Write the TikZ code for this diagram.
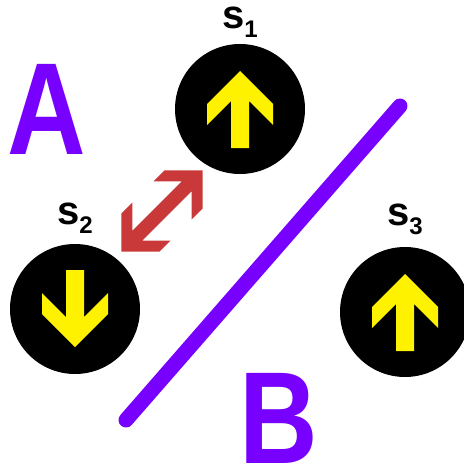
\documentclass[tikz,border=0pt]{standalone}
\usepackage{fontspec}
\setmainfont{Liberation Sans}
\usetikzlibrary{positioning}

\definecolor{wallpurple}{RGB}{119,0,255}
\definecolor{swapred}{RGB}{201,57,57}

\newcommand{\spinname}[1]{s\lower9pt\hbox{\fontsize{24}{24}\selectfont #1}}

\begin{document}
\begin{tikzpicture}[x=1pt, y=-1pt,
  spin/.style={circle, fill=black, minimum size=130pt, inner sep=0pt},
  spinlabel/.style={font=\fontsize{40}{40}\selectfont\bfseries, inner sep=0pt},
  region/.style={font=\fontsize{131}{131}\selectfont\bfseries, text=wallpurple,
                 inner sep=0pt, anchor=base, xscale=0.83, transform shape},
  wall/.style={draw=wallpurple, line width=15pt, line cap=round},
  spinup/.pic={\fill[yellow] (0,-38) -- (33,-5) -- (33,16) -- (9,-8) -- (9,39)
      -- (-9,39) -- (-9,-8) -- (-33,16) -- (-33,-5) -- cycle;},
  swap/.pic={\fill[swapred] (57.5,0) -- (30.5,27) -- (15,27) -- (35,7) -- (-35,7)
      -- (-15,27) -- (-30.5,27) -- (-57.5,0) -- (-30.5,-27) -- (-15,-27)
      -- (-35,-7) -- (35,-7) -- (15,-27) -- (30.5,-27) -- cycle;}
]
\useasboundingbox (0,0) rectangle (463,468);

%% Spins
\node[spin] at (240,109) (s1) {};
\node[spin] at (75,309)  (s2) {};
\node[spin] at (405,312) (s3) {};
\pic at (s1) {spinup};
\pic[rotate=180] at (s2) {spinup};
\pic at (s3) {spinup};

%% Spin labels
\node[spinlabel, above=6pt of s1]  (lab1) {\spinname{1}};
\node[spinlabel, above=10pt of s2] (lab2) {\spinname{2}};
\node[spinlabel, above=12pt of s3] (lab3) {\spinname{3}};

%% Exchange between s1 and s2
\pic[rotate=45] at (162,211) {swap};

%% Domain wall and regions
\draw[wall] (126,420) -- (400,106);
\node[region] at (47,154)  (regA) {A};
\node[region] at (279,463) (regB) {B};
\end{tikzpicture}
\end{document}
